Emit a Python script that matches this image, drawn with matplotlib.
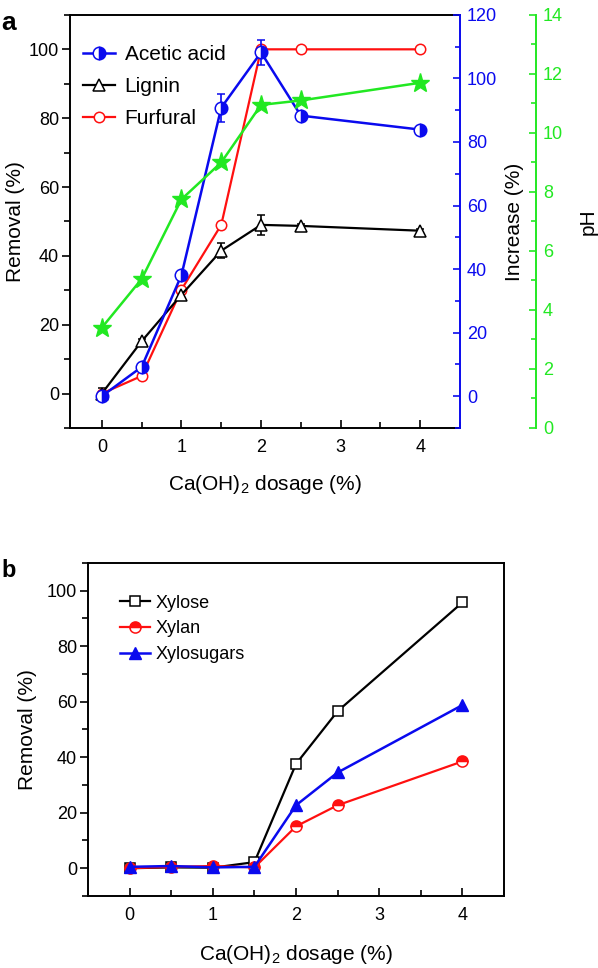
import matplotlib.pyplot as plt
from matplotlib.ticker import MultipleLocator

plt.rcParams['font.family'] = ['Liberation Sans', 'DejaVu Sans']
plt.rcParams['mathtext.default'] = 'regular'

# ----- data -----
dosage = [0, 0.5, 1, 1.5, 2, 2.5, 4]

acetic_increase = [0, 9.2, 38.1, 90.8, 108.2, 88.3, 83.9]
acetic_err = [0.8, 0.8, 1.0, 4.4, 4.0, 0.8, 0.6]
lignin_removal = [0, 15.2, 28.7, 41.5, 49.0, 48.7, 47.3]
lignin_err = [1.5, 0.5, 0.8, 2.2, 3.0, 0.5, 0.5]
furfural_removal = [0, 5.1, 30.2, 49.0, 100, 100, 100]
ph_values = [3.4, 5.05, 7.75, 9.0, 10.95, 11.1, 11.7]

xylose_removal = [0, 0.3, 0.2, 2.2, 37.6, 56.6, 95.8]
xylan_removal = [0, 0.5, 0.8, 0.3, 15.1, 22.7, 38.5]
xylosugars_removal = [0.5, 0.8, 0.3, 0.5, 22.7, 34.5, 58.8]

BLUE = '#0a0aee'
GREEN = '#22e822'
RED = '#ff1010'
XLABEL = 'Ca(OH)$_2$ dosage (%)'

fig = plt.figure(figsize=(5.98, 9.68), dpi=100)

# ----- panel a -----
ax = fig.add_axes([0.1171, 0.5579, 0.6522, 0.4267])
ax_inc = ax.twinx()
ax_ph = ax.twinx()

ax.set_xlim(-0.4, 4.5)
ax.set_ylim(-10, 110)
ax.set_xticks([0, 1, 2, 3, 4])
ax.xaxis.set_minor_locator(MultipleLocator(0.5))
ax.set_yticks(range(0, 101, 20))
ax.yaxis.set_minor_locator(MultipleLocator(10))
ax.spines['right'].set_visible(False)
ax.tick_params(axis='x', which='both', direction='in', top=False, labelsize=13, pad=8)
ax.tick_params(axis='y', which='both', direction='out', right=False, labelsize=13, pad=2)
ax.tick_params(which='major', length=6, width=1.2)
ax.tick_params(which='minor', length=4, width=1.2)
for s in ['left', 'bottom', 'top']:
    ax.spines[s].set_linewidth(1.4)

ax_inc.set_ylim(-10, 120)
ax_inc.set_yticks(range(0, 121, 20))
ax_inc.yaxis.set_minor_locator(MultipleLocator(10))
for s in ['left', 'top', 'bottom']:
    ax_inc.spines[s].set_visible(False)
ax_inc.spines['right'].set_color(BLUE)
ax_inc.spines['right'].set_linewidth(1.4)
ax_inc.tick_params(axis='y', which='both', direction='in', colors=BLUE, labelsize=13, pad=5)
ax_inc.tick_params(which='major', length=5, width=1.2)
ax_inc.tick_params(which='minor', length=3.5, width=1.2)

ax_ph.set_ylim(0, 14)
ax_ph.set_yticks(range(0, 15, 2))
ax_ph.yaxis.set_minor_locator(MultipleLocator(1))
for s in ['left', 'top', 'bottom']:
    ax_ph.spines[s].set_visible(False)
ax_ph.spines['right'].set_position(('axes', 1.195))
ax_ph.spines['right'].set_color(GREEN)
ax_ph.spines['right'].set_linewidth(1.4)
ax_ph.tick_params(axis='y', which='both', direction='in', colors=GREEN, labelsize=13, pad=5)
ax_ph.tick_params(which='major', length=5, width=1.2)
ax_ph.tick_params(which='minor', length=3.5, width=1.2)

h_lig = ax.errorbar(dosage, lignin_removal, yerr=lignin_err, color='black', lw=1.6,
                    marker='^', ms=8, mfc='white', mec='black', mew=1.1,
                    capsize=3, elinewidth=1.2)
h_fur, = ax.plot(dosage, furfural_removal, color=RED, lw=1.6, marker='o', ms=7.5,
                 mfc='white', mec=RED, mew=1.1)
h_ace = ax_inc.errorbar(dosage, acetic_increase, yerr=acetic_err, color=BLUE, lw=1.8,
                        marker='o', ms=9, fillstyle='right', mfc=BLUE, mfcalt='white',
                        mec=BLUE, mew=1.1, capsize=3, elinewidth=1.2)
ax_ph.plot(dosage, ph_values, color=GREEN, lw=1.8, marker='*', ms=14, mec=GREEN)

ax.set_ylabel('Removal (%)', fontsize=15)
ax.yaxis.set_label_coords(-0.115, 0.5)
ax_inc.set_ylabel('Increase (%)', fontsize=15, color='black')
ax_inc.yaxis.set_label_coords(1.115, 0.5)
ax_ph.set_ylabel('pH', fontsize=15, color='black')
ax_ph.yaxis.set_label_coords(1.303, 0.5)
ax.set_xlabel(XLABEL, fontsize=15)
ax.xaxis.set_label_coords(0.5, -0.109)

ax.legend([h_ace[0], h_lig[0], h_fur], ['Acetic acid', 'Lignin', 'Furfural'],
          loc='upper left', bbox_to_anchor=(0.033, 0.927), frameon=False,
          fontsize=15, handlelength=1.55, handletextpad=0.45, labelspacing=0.62,
          borderpad=0, borderaxespad=0)

fig.text(0.002, 1 - 30 / 968, 'a', fontsize=19, fontweight='bold')

# ----- panel b -----
bx = fig.add_axes([0.1472, 0.0744, 0.6957, 0.3440])
bx.set_xlim(-0.5, 4.5)
bx.set_ylim(-10, 110)
bx.set_xticks([0, 1, 2, 3, 4])
bx.xaxis.set_minor_locator(MultipleLocator(0.5))
bx.set_yticks(range(0, 101, 20))
bx.yaxis.set_minor_locator(MultipleLocator(10))
bx.tick_params(axis='x', which='both', direction='in', top=False, labelsize=13, pad=8)
bx.tick_params(axis='y', which='both', direction='out', right=False, labelsize=13, pad=2)
bx.tick_params(which='major', length=6, width=1.2)
bx.tick_params(which='minor', length=4, width=1.2)
for s in bx.spines.values():
    s.set_linewidth(1.4)

bx.plot(dosage, xylose_removal, color='black', lw=1.6, marker='s', ms=7,
        mfc='white', mec='black', mew=1.1, label='Xylose')
bx.plot(dosage, xylan_removal, color=RED, lw=1.6, marker='o', ms=8, fillstyle='top',
        mfc=RED, mfcalt='white', mec=RED, mew=1.1, label='Xylan')
bx.plot(dosage, xylosugars_removal, color=BLUE, lw=1.8, marker='^', ms=9,
        mfc=BLUE, mec=BLUE, label='Xylosugars')

bx.set_ylabel('Removal (%)', fontsize=15)
bx.yaxis.set_label_coords(-0.123, 0.5)
bx.set_xlabel(XLABEL, fontsize=15)
bx.xaxis.set_label_coords(0.5, -0.141)
bx.legend(loc='upper left', bbox_to_anchor=(0.077, 0.905), frameon=False,
          fontsize=13, handlelength=1.65, handletextpad=0.3, labelspacing=0.48,
          borderpad=0, borderaxespad=0)

fig.text(0.002, 1 - 577 / 968, 'b', fontsize=17, fontweight='bold')

fig.savefig('out.png', dpi=100)
